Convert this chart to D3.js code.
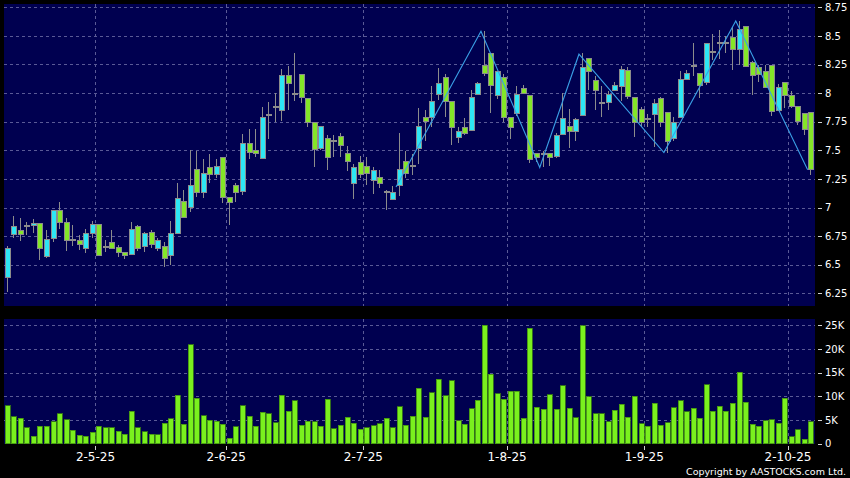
<!DOCTYPE html>
<html><head><meta charset="utf-8">
<script src="https://cdn.jsdelivr.net/npm/d3@7"></script>
<style>html,body{margin:0;padding:0;background:#000;}svg{display:block;}</style>
</head><body><svg id="chart" width="850" height="478"></svg>
<script>
// ---- DATA ----
const dates = [
"2025-04-09","2025-04-10","2025-04-11","2025-04-14","2025-04-15","2025-04-16","2025-04-17","2025-04-22","2025-04-23","2025-04-24","2025-04-25","2025-04-28","2025-04-29","2025-04-30",
"2025-05-02","2025-05-06","2025-05-07","2025-05-08","2025-05-09","2025-05-12","2025-05-13","2025-05-14","2025-05-15","2025-05-16","2025-05-19","2025-05-20","2025-05-21","2025-05-22","2025-05-23","2025-05-26","2025-05-27","2025-05-28","2025-05-29","2025-05-30",
"2025-06-02","2025-06-03","2025-06-04","2025-06-05","2025-06-06","2025-06-09","2025-06-10","2025-06-11","2025-06-12","2025-06-13","2025-06-16","2025-06-17","2025-06-18","2025-06-19","2025-06-20","2025-06-23","2025-06-24","2025-06-25","2025-06-26","2025-06-27","2025-06-30",
"2025-07-02","2025-07-03","2025-07-04","2025-07-07","2025-07-08","2025-07-09","2025-07-10","2025-07-11","2025-07-14","2025-07-15","2025-07-16","2025-07-17","2025-07-18","2025-07-21","2025-07-22","2025-07-23","2025-07-24","2025-07-25","2025-07-28","2025-07-29","2025-07-30","2025-07-31",
"2025-08-01","2025-08-04","2025-08-05","2025-08-06","2025-08-07","2025-08-08","2025-08-11","2025-08-12","2025-08-13","2025-08-14","2025-08-15","2025-08-18","2025-08-19","2025-08-20","2025-08-21","2025-08-22","2025-08-25","2025-08-26","2025-08-27","2025-08-28","2025-08-29",
"2025-09-01","2025-09-02","2025-09-03","2025-09-04","2025-09-05","2025-09-08","2025-09-09","2025-09-10","2025-09-11","2025-09-12","2025-09-15","2025-09-16","2025-09-17","2025-09-18","2025-09-19","2025-09-22","2025-09-23","2025-09-24","2025-09-25","2025-09-26","2025-09-29","2025-09-30",
"2025-10-02","2025-10-03","2025-10-06","2025-10-08"];

const open = [6.39,6.76,6.80,6.84,6.84,6.86,6.57,6.73,6.97,6.87, 6.72,6.71,6.64,6.77,6.85,6.66,6.69,6.65,6.61,6.59,
6.83,6.66,6.78,6.64,6.66,6.58,6.77,7.05,7.00,7.33, 7.13,7.35,7.29,7.44,7.09,7.19,7.14,7.56,7.50,7.43,
7.81,7.88,7.85,8.15,8.00,8.16,7.95,7.74,7.52,7.60, 7.59,7.62,7.47,7.21,7.39,7.36,7.24,7.26,7.14,7.07,
7.19,7.40,7.37,7.52,7.79,7.79,7.99,8.14,7.93,7.61, 7.70,7.67,7.99,8.24,8.35,7.98,8.14,7.79,7.82,8.04,
7.98,7.47,7.47,7.47,7.45,7.64,7.71,7.66,7.80,8.30, 8.11,7.92,7.92,8.02,8.06,8.20,7.96,7.86,7.78,7.81,
7.95,7.83,7.60,7.79,8.12,8.24,8.17,8.09,8.36,8.44, 8.44,8.49,8.38,8.58,8.27,8.22,8.19,8.24,7.85,8.09,
7.98,7.88,7.82,7.83];

const high = [6.66,6.93,6.91,6.87,6.90,6.86,6.80,6.98,7.05,6.91, 6.85,6.76,6.81,6.88,6.85,6.72,6.80,6.67,6.61,6.87,
6.85,6.79,6.80,6.73,6.70,6.88,7.21,7.15,7.50,7.49, 7.42,7.47,7.42,7.44,7.09,7.21,7.64,7.69,7.69,7.88,
7.92,8.00,8.21,8.24,8.35,8.16,7.95,7.74,7.71,7.63, 7.63,7.65,7.54,7.38,7.45,7.44,7.35,7.33,7.15,7.19,
7.65,7.49,7.47,7.87,7.85,8.06,8.22,8.17,7.93,7.70, 7.78,8.03,8.10,8.54,8.35,8.19,8.17,7.79,8.06,8.07,
7.98,7.48,7.49,7.47,7.65,8.00,7.86,7.78,8.35,8.31, 8.15,8.06,8.02,8.10,8.24,8.23,7.96,7.88,7.82,7.95,
7.97,7.83,7.79,8.19,8.20,8.44,8.17,8.44,8.52,8.55, 8.50,8.58,8.63,8.58,8.28,8.25,8.25,8.24,8.08,8.10,
8.02,7.88,7.82,7.83];

const low = [6.26,6.73,6.71,6.76,6.78,6.54,6.56,6.70,6.81,6.62, 6.66,6.63,6.60,6.73,6.58,6.61,6.64,6.57,6.55,6.59,
6.62,6.61,6.65,6.62,6.48,6.50,6.77,6.91,6.96,7.09, 7.08,7.21,7.26,7.04,6.85,7.05,7.11,7.42,7.44,7.43,
7.60,7.75,7.76,7.85,7.93,7.91,7.70,7.35,7.50,7.33, 7.44,7.44,7.32,7.07,7.26,7.20,7.12,7.17,6.98,7.07,
7.10,7.26,7.28,7.38,7.58,7.70,7.94,7.79,7.55,7.56, 7.63,7.67,7.99,8.15,7.83,7.95,7.75,7.60,7.80,7.99,
7.39,7.40,7.35,7.36,7.43,7.64,7.52,7.58,7.80,8.03, 7.85,7.79,7.85,8.02,7.93,7.95,7.62,7.70,7.70,7.53,
7.70,7.48,7.58,7.79,8.12,8.15,7.96,8.07,8.29,8.30, 8.35,8.20,8.25,8.23,7.98,8.10,8.05,7.80,7.85,7.87,
7.87,7.72,7.63,7.28];

const close = [6.64,6.83,6.76,6.84,6.86,6.64,6.72,6.97,6.87,6.71, 6.72,6.68,6.77,6.85,6.58,6.66,6.64,6.61,6.58,6.81,
6.64,6.77,6.68,6.71,6.55,6.77,7.08,6.91,7.19,7.13, 7.30,7.29,7.36,7.09,7.04,7.13,7.56,7.48,7.47,7.79,
7.81,7.88,8.15,8.08,8.00,7.96,7.74,7.51,7.71,7.44, 7.59,7.54,7.40,7.35,7.29,7.30,7.32,7.21,7.13,7.13,
7.33,7.30,7.37,7.71,7.75,7.93,8.08,7.93,7.70,7.66, 7.65,7.96,8.08,8.17,8.07,8.19,7.79,7.70,7.99,8.00,
7.42,7.44,7.47,7.44,7.63,7.78,7.66,7.77,8.22,8.19, 8.02,7.92,7.99,8.07,8.21,7.97,7.74,7.74,7.78,7.91,
7.74,7.58,7.74,8.12,8.17,8.24,8.07,8.43,8.36,8.44, 8.44,8.38,8.56,8.23,8.15,8.16,8.05,7.84,8.05,7.98,
7.88,7.75,7.68,7.33];

const volume = [8000,5700,5400,3400,1600,3700,3700,4600,6300,5100, 2800,1800,1600,2400,3700,3400,3400,2600,2000,6800,
3400,2500,2000,1900,4300,5300,10200,4100,20900,9600, 5900,4900,4700,4100,1200,3600,8000,5800,3700,6600,
6300,4400,10200,6900,9100,3900,4700,4600,3700,9400, 3200,3900,5600,4300,3100,3400,3800,4200,5400,3400,
7800,3900,5800,11700,5600,10800,13600,10100,13300,4800, 4100,7400,9200,25000,14700,10500,9400,11100,11100,5400,
24400,7700,7300,10300,7300,12200,7500,5500,24900,9900, 6300,6300,4600,7100,8300,5600,10000,4200,3700,8500,
3900,4400,7600,9100,6700,7500,5400,12400,6900,7900, 6900,8500,15100,8800,4100,3700,4800,5100,4300,9600,
1500,2900,900,4600];

// zigzag turning points [date, price]
const zigzag = [["2025-07-09",7.18],["2025-07-28",8.54],["2025-08-08",7.35],["2025-08-18",8.34],
                ["2025-09-04",7.48],["2025-09-19",8.63],["2025-10-08",7.33]];

const priceTicks = [6.25,6.5,6.75,7,7.25,7.5,7.75,8,8.25,8.5,8.75];
const volumeTicks = [0,5000,10000,15000,20000,25000];
const monthTickDates = ["2025-05-02","2025-06-02","2025-07-02","2025-08-01","2025-09-01","2025-10-02"];
const monthTickLabels = ["2-5-25","2-6-25","2-7-25","1-8-25","1-9-25","2-10-25"];

// ---- STYLE / LAYOUT ----
const panelX0 = 4, panelX1 = 815;
const priceTop = 4, priceBottom = 306, volTop = 319, volBottom = 444;
const PANEL = "#000050", GRID = "#5a5a96", CYAN = "#2ee6f4", GREEN = "#84e628",
      VOLGREEN = "#7af01e", VOLEDGE = "#3f8a10", EDGE = "#8c8c8c", ZZ = "#3a9fe6";
const FONT = "'DejaVu Sans', Verdana, sans-serif";

const svg = d3.select("#chart");
svg.append("rect").attr("width",850).attr("height",478).attr("fill","#000");

const x = d3.scaleBand().domain(dates).range([4.03, 814.17]).padding(0);
const y = d3.scaleLinear().domain([6.25, 8.75]).range([293.3, 7.3]);
const yv = d3.scaleLinear().domain([0, 25000]).range([443.7, 325.3]);
const bw = x.bandwidth();
const cx = d => x(d) + bw/2;

const data = dates.map((d,i)=>({date:d,o:open[i],h:high[i],l:low[i],c:close[i],v:volume[i]}));

// panels
svg.append("rect").attr("x",panelX0).attr("y",priceTop).attr("width",panelX1-panelX0)
   .attr("height",priceBottom-priceTop).attr("fill",PANEL);
svg.append("rect").attr("x",panelX0).attr("y",volTop).attr("width",panelX1-panelX0)
   .attr("height",volBottom-volTop).attr("fill",PANEL);

// gridlines
const grid = svg.append("g").attr("stroke",GRID).attr("stroke-width",1)
   .attr("stroke-dasharray","3,3").attr("shape-rendering","crispEdges");
grid.selectAll("line.hp").data(priceTicks).join("line")
   .attr("x1",panelX0).attr("x2",panelX1)
   .attr("y1",d=>Math.round(y(d))+0.5).attr("y2",d=>Math.round(y(d))+0.5);
grid.selectAll("line.hv").data(volumeTicks.filter(v=>v>0)).join("line")
   .attr("x1",panelX0).attr("x2",panelX1)
   .attr("y1",d=>Math.round(yv(d))+0.5).attr("y2",d=>Math.round(yv(d))+0.5);
grid.selectAll("line.vp").data(monthTickDates).join("line")
   .attr("x1",d=>Math.round(x(d))+0.5).attr("x2",d=>Math.round(x(d))+0.5)
   .attr("y1",priceTop).attr("y2",priceBottom);
grid.selectAll("line.vv").data(monthTickDates).join("line")
   .attr("x1",d=>Math.round(x(d))+0.5).attr("x2",d=>Math.round(x(d))+0.5)
   .attr("y1",volTop).attr("y2",volBottom);

// candles
const cg = svg.append("g").attr("shape-rendering","crispEdges");
cg.selectAll("line.wick").data(data).join("line")
  .attr("x1",d=>Math.floor(cx(d.date))+0.5).attr("x2",d=>Math.floor(cx(d.date))+0.5)
  .attr("y1",d=>y(d.h)).attr("y2",d=>y(d.l))
  .attr("stroke",EDGE).attr("stroke-width",1);
cg.selectAll("rect.body").data(data).join("rect")
  .attr("x",d=>Math.floor(cx(d.date))-2)
  .attr("width",5)
  .attr("y",d=>y(Math.max(d.o,d.c)))
  .attr("height",d=>Math.max(1,Math.abs(y(d.o)-y(d.c))))
  .attr("fill",d=>d.c>d.o?CYAN:(d.c<d.o?GREEN:EDGE))
  .attr("stroke",EDGE).attr("stroke-width",1);

// zigzag
svg.append("path").datum(zigzag)
  .attr("d",d3.line().x(d=>x(d[0])).y(d=>y(d[1])))
  .attr("fill","none").attr("stroke",ZZ).attr("stroke-width",1.1);

// volume bars
svg.append("g").attr("shape-rendering","crispEdges")
  .selectAll("rect").data(data).join("rect")
  .attr("x",d=>Math.floor(cx(d.date))-2)
  .attr("width",5)
  .attr("y",d=>yv(d.v))
  .attr("height",d=>yv(0)-yv(d.v))
  .attr("fill",VOLGREEN).attr("stroke",VOLEDGE).attr("stroke-width",0.8);

// right axes
function styleAxis(g){
  g.select(".domain").remove();
  g.selectAll(".tick line").attr("stroke","#d0d0d0").attr("shape-rendering","crispEdges");
  g.selectAll(".tick text").attr("fill","#fff").attr("font-family",FONT).attr("font-size","10px");
}
svg.append("g").attr("transform","translate(818,0)")
  .call(d3.axisRight(y).tickValues(priceTicks).tickSize(4).tickPadding(3).tickFormat(d=>String(d)))
  .call(styleAxis);
svg.append("g").attr("transform","translate(818,0)")
  .call(d3.axisRight(yv).tickValues(volumeTicks).tickSize(4).tickPadding(3)
        .tickFormat(d=>d===0?"0":(d/1000)+"K"))
  .call(styleAxis);

// bottom date axis
const xa = svg.append("g");
xa.selectAll("line").data(monthTickDates).join("line")
  .attr("x1",d=>Math.round(x(d))+0.5).attr("x2",d=>Math.round(x(d))+0.5)
  .attr("y1",446).attr("y2",450).attr("stroke","#d0d0d0").attr("shape-rendering","crispEdges");
xa.selectAll("text").data(monthTickDates).join("text")
  .attr("x",d=>x(d)).attr("y",461).attr("text-anchor","middle")
  .attr("fill","#fff").attr("font-family",FONT).attr("font-size","12px")
  .text((d,i)=>monthTickLabels[i]);

// copyright
svg.append("text").attr("x",846).attr("y",475).attr("text-anchor","end")
  .attr("fill","#fff").attr("font-family",FONT).attr("font-size","9.5px")
  .text("Copyright by AASTOCKS.com Ltd.");
</script></body></html>
